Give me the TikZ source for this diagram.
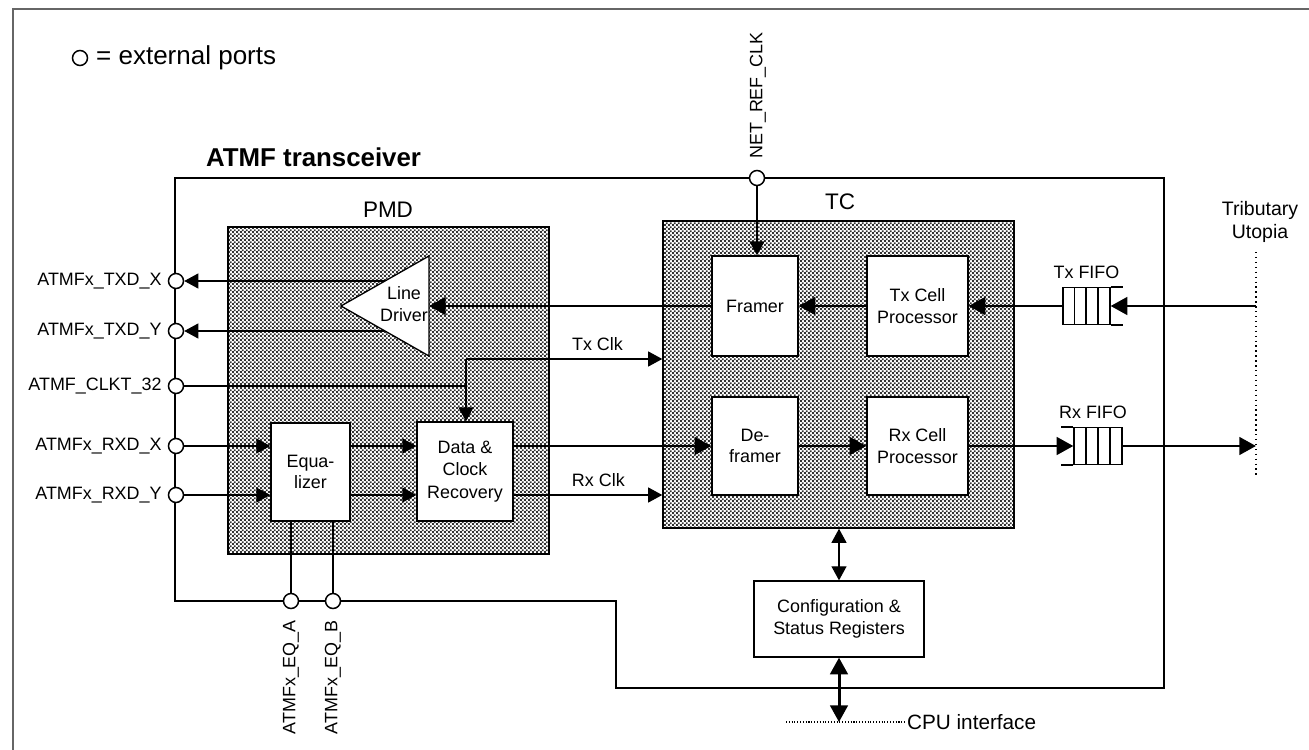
\documentclass[tikz,border=0pt]{standalone}
\usepackage{fontspec}
\setmainfont{Liberation Sans}
\usetikzlibrary{arrows.meta,patterns.meta,positioning}

\tikzdeclarepattern{
  name=dotgrid,
  type=uncolored,
  bounding box={(0pt,0pt) and (2.2pt,2.2pt)},
  tile size={(2.2pt,2.2pt)},
  code={
    \fill (0pt,0pt) rectangle (1.1pt,1.1pt);
    \fill (1.1pt,1.1pt) rectangle (2.2pt,2.2pt);
  }
}

\begin{document}
\begin{tikzpicture}[x=0.02cm, y=-0.02cm,
  every node/.style={font=\fontsize{10.2}{12.3}\selectfont},
  blk/.style={draw, fill=white, line width=0.75pt, align=center, inner sep=0pt},
  layer/.style={draw, line width=0.9pt, fill=white, pattern=dotgrid, pattern color=black!80, inner sep=0pt},
  port/.style={circle, draw, fill=white, line width=0.85pt, minimum size=0.3cm, inner sep=0pt},
  fifo/.style={draw, line width=0.75pt, inner sep=0pt, minimum height=0.74cm},
  sig/.style={line width=0.8pt, -{Triangle[length=8pt,width=8.5pt]}},
  bus/.style={line width=1.7pt, -{Triangle[length=9.5pt,width=10pt]}},
  both/.style={line width=0.8pt, {Triangle[length=8pt,width=8.5pt]}-{Triangle[length=8pt,width=8.5pt]}},
  bothbus/.style={line width=1.7pt, {Triangle[length=9.5pt,width=10pt]}-{Triangle[length=9.5pt,width=10pt]}},
]
\useasboundingbox (0,0) rectangle (1309,750);

% page frame
\draw[black!60, line width=0.6pt] (13,750) -- (13,9) -- (1309,9);

% legend and title
\node[port] (lgd) at (80,58) {};
\node[anchor=west, font=\fontsize{14.8}{17}\selectfont] (lgdtxt) at (90,58) {= external ports};
\node[anchor=west, font=\fontsize{14.7}{17}\selectfont\bfseries] (title) at (200,157) {ATMF transceiver};

% transceiver outline
\draw[line width=0.9pt] (175,178) -- (1164,178) -- (1164,688) -- (616,688) -- (616,601) -- (175,601) -- cycle;

% sublayers
\node[layer, minimum width=6.42cm, minimum height=6.54cm] (pmd) at (388.5,390.5) {};
\node[font=\fontsize{12.8}{15}\selectfont] (pmdlbl) at (388,210) {PMD};
\node[layer, minimum width=7.02cm, minimum height=6.14cm] (tc) at (838.5,374.5) {};
\node[font=\fontsize{12.8}{15}\selectfont] (tclbl) at (840,202) {TC};

% blocks
\node[blk, minimum width=1.72cm, minimum height=2cm] (framer) at (755,306) {Framer};
\node[blk, minimum width=2.02cm, minimum height=2cm] (txcell) at (917.5,306) {Tx Cell\\Processor};
\node[blk, minimum width=1.72cm, minimum height=1.96cm] (deframer) at (755,446) {De-\\framer};
\node[blk, minimum width=2.02cm, minimum height=1.96cm] (rxcell) at (917.5,446) {Rx Cell\\Processor};
\node[blk, minimum width=1.58cm, minimum height=1.96cm] (eq) at (310.5,472) {Equa-\\lizer};
\node[blk, minimum width=1.92cm, minimum height=1.98cm, font=\fontsize{10.2}{12.8}\selectfont] (dcr) at (465,471.5) {Data \&\\Clock\\Recovery};
\node[blk, minimum width=3.4cm, minimum height=1.52cm] (cfg) at (839,619) {Configuration \&\\Status Registers};

% line driver
\draw[line width=0.75pt, fill=white] (341,306) -- (429,256) -- (429,356) -- cycle;
\node[align=center, inner sep=0pt] (ldlbl) at (404,304) {Line\\Driver};
\coordinate (ldin) at (429,306);
\coordinate (ldx) at (385,281);
\coordinate (ldy) at (384,331);

% external ports
\node[port, label={left:ATMFx\_TXD\_X}] (txdx) at (176,281) {};
\node[port, label={left:ATMFx\_TXD\_Y}] (txdy) at (176,331) {};
\node[port, label={left:ATMF\_CLKT\_32}] (clkt) at (176,386) {};
\node[port, label={left:ATMFx\_RXD\_X}] (rxdx) at (176,446) {};
\node[port, label={left:ATMFx\_RXD\_Y}] (rxdy) at (176,495) {};
\node[port] (eqa) at (291,601) {};
\node[port] (eqb) at (333,601) {};
\node[port] (nrc) at (757,178) {};
\node[rotate=90, anchor=east] (eqalbl) at (291,614) {ATMFx\_EQ\_A};
\node[rotate=90, anchor=east] (eqblbl) at (333,614) {ATMFx\_EQ\_B};
\node[rotate=90, anchor=west] (nrclbl) at (758,165) {NET\_REF\_CLK};

% transmit path
\draw[sig] (ldx) -- (txdx);
\draw[sig] (ldy) -- (txdy);
\draw[bus] (framer.west) -- (ldin);
\draw[bus] (txcell.west) -- (framer.east);
\draw[sig] (nrc) -- (nrc |- framer.north);

% clocks
\coordinate (txck) at (466,359);
\draw[sig] (clkt) -| (dcr.north -| txck);
\draw[line width=0.8pt] (txck) -- (txck |- clkt);
\draw[sig] (txck) -- (txck -| tc.west) node[pos=0.67, above=1pt] (txclbl) {Tx Clk};
\draw[sig] (dcr.east |- rxdy) -- (tc.west |- rxdy) node[pos=0.57, above=1pt] (rxclbl) {Rx Clk};

% receive path
\draw[sig] (rxdx) -- (eq.west |- rxdx);
\draw[sig] (rxdy) -- (eq.west |- rxdy);
\draw[sig] (eq.east |- rxdx) -- (dcr.west |- rxdx);
\draw[sig] (eq.east |- rxdy) -- (dcr.west |- rxdy);
\draw[bus] (dcr.east |- rxdx) -- (deframer.west);
\draw[bus] (deframer.east) -- (rxcell.west);
\draw[line width=0.8pt] (eqa) -- (eqa |- eq.south);
\draw[line width=0.8pt] (eqb) -- (eqb |- eq.south);

% FIFOs and tributary Utopia
\node[fifo, minimum width=0.94cm] (txfifo) at (1086.5,306) {};
\foreach \xx in {1074.5,1086,1098}
  \draw[line width=0.75pt] (\xx,287.5) -- (\xx,324.5);
\draw[line width=0.75pt] (txfifo.north east) -- ++(12,0) (txfifo.south east) -- ++(12,0);
\node[above=1pt of txfifo.north] (txfifolbl) {Tx FIFO};
\node[fifo, minimum width=0.96cm] (rxfifo) at (1098,446) {};
\foreach \xx in {1086,1098,1110}
  \draw[line width=0.75pt] (\xx,427.5) -- (\xx,464.5);
\draw[line width=0.75pt] (rxfifo.north west) -- ++(-12,0) (rxfifo.south west) -- ++(-12,0);
\node[above=1pt of rxfifo.north, xshift=-0.1cm] (rxfifolbl) {Rx FIFO};

\draw[dotted, line width=0.8pt] (1256,252) -- (1256,477);
\node[align=center, font=\fontsize{11.1}{13}\selectfont] (utopia) at (1260,222) {Tributary\\Utopia};
\coordinate (utx) at (1256,306);
\coordinate (urx) at (1256,446);
\draw[bus] (utx) -- (txfifo.east);
\draw[bus] (txfifo.west) -- (txcell.east);
\draw[bus] (rxcell.east) -- (rxfifo.west);
\draw[bus] (rxfifo.east) -- (urx);

% CPU side
\coordinate (cpu) at (839,722);
\draw[both] (cfg.north |- tc.south) -- (cfg.north);
\draw[bothbus] (cfg.south) -- (cpu);
\draw[densely dotted, line width=0.6pt] (786,722) -- (905,722);
\node[anchor=west, font=\fontsize{11.8}{14}\selectfont, inner sep=1pt] (cpulbl) at (905,722) {CPU interface};
\end{tikzpicture}
\end{document}
